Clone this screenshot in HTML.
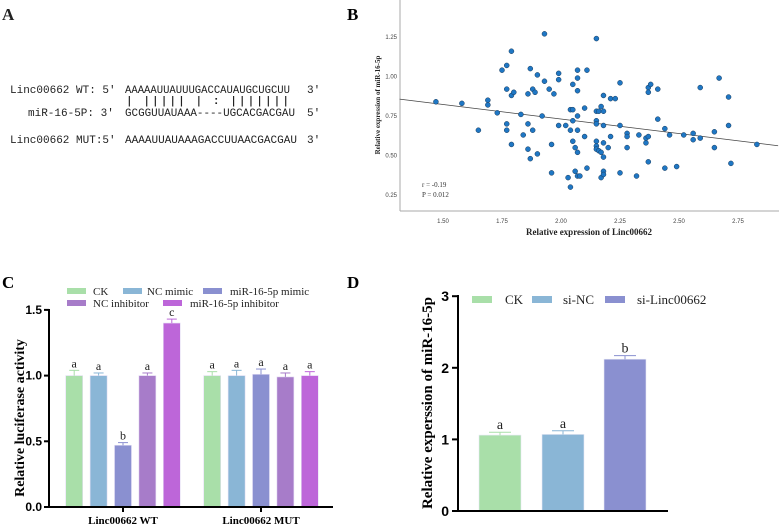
<!DOCTYPE html>
<html><head><meta charset="utf-8"><style>
body{margin:0;background:#fff}
svg{display:block}
.ser{font-family:"Liberation Serif",serif}
.mono{font-family:"Liberation Mono","Noto Sans CJK SC",monospace}
</style></head><body>
<svg id="fig" width="779" height="528" viewBox="0 0 779 528" xmlns="http://www.w3.org/2000/svg">
<g class="mono" font-size="11" fill="#222">
<text x="2" y="20" class="ser" font-size="17" font-weight="bold">A</text>
<text x="10" y="93">Linc00662 WT: 5'</text>
<text x="125" y="93" textLength="165" lengthAdjust="spacingAndGlyphs">AAAAAUUAUUUGACCAUAUGCUGCUU</text>
<text x="307" y="93">3'</text>
<text x="125" y="104" textLength="165" lengthAdjust="spacingAndGlyphs">     | |||||     |  :  |||||||</text>
<text x="28" y="116">miR-16-5P: 3'</text>
<text x="125" y="116" textLength="170" lengthAdjust="spacingAndGlyphs">GCGGUUAUAAA----UGCACGACGAU</text>
<text x="307" y="116">5'</text>
<text x="10" y="143">Linc00662 MUT:5'</text>
<text x="125" y="143" textLength="172" lengthAdjust="spacingAndGlyphs">AAAAUUAUAAAGACCUUAACGACGAU</text>
<text x="307" y="143">3'</text>
</g>
<text x="347" y="20" class="ser" font-size="17" font-weight="bold">B</text>
<text x="2" y="288" class="ser" font-size="17" font-weight="bold">C</text>
<text x="347" y="288" class="ser" font-size="17" font-weight="bold">D</text>
<g id="pb"></g>
<g id="pc"></g>
<g id="pd"></g>
</svg>
<script>
const NS="http://www.w3.org/2000/svg";
function mk(p,t,a,txt){const e=document.createElementNS(NS,t);for(const k in a)e.setAttribute(k,a[k]);if(txt!==undefined)e.textContent=txt;p.appendChild(e);return e;}

// ---------- Panel B data ----------
const scatterX=[1.47,1.58,1.65,1.69,1.69,1.73,1.75,1.77,1.77,1.77,1.77,1.79,1.79,1.79,1.80,1.83,1.84,1.86,1.86,1.86,1.87,1.88,1.88,1.89,1.87,1.90,1.90,1.92,1.93,1.93,1.95,1.96,1.96,1.97,1.99,1.99,1.99,2.02,2.03,2.04,2.04,2.04,2.05,2.05,2.05,2.05,2.06,2.06,2.07,2.07,2.07,2.07,2.07,2.07,2.07,2.08,2.10,2.10,2.11,2.11,2.15,2.15,2.15,2.15,2.15,2.15,2.15,2.16,2.16,2.17,2.17,2.17,2.18,2.18,2.18,2.18,2.18,2.18,2.18,2.20,2.21,2.21,2.23,2.25,2.25,2.25,2.28,2.28,2.28,2.32,2.33,2.36,2.36,2.37,2.37,2.37,2.37,2.38,2.41,2.41,2.44,2.44,2.46,2.49,2.52,2.56,2.56,2.59,2.59,2.65,2.65,2.67,2.71,2.71,2.72,2.83];
const scatterY=[0.84,0.83,0.66,0.85,0.82,0.77,1.04,1.07,0.92,0.70,0.66,1.16,0.88,0.57,0.90,0.76,0.63,0.89,0.70,0.54,1.05,0.92,0.66,0.90,0.48,1.01,0.51,0.75,1.27,0.97,0.92,0.57,0.39,0.89,1.02,0.98,0.69,0.69,0.36,0.66,0.79,0.30,0.95,0.79,0.72,0.59,0.55,0.40,1.04,0.99,0.91,0.75,0.66,0.52,0.37,0.37,0.80,0.62,1.04,0.42,1.24,0.78,0.72,0.70,0.59,0.56,0.54,0.78,0.53,0.81,0.52,0.36,0.88,0.78,0.69,0.58,0.49,0.40,0.38,0.55,0.86,0.62,0.86,0.96,0.69,0.39,0.64,0.62,0.55,0.37,0.63,0.61,0.58,0.93,0.90,0.62,0.46,0.95,0.92,0.73,0.67,0.42,0.63,0.43,0.63,0.64,0.60,0.93,0.61,0.65,0.55,0.99,0.87,0.69,0.45,0.57];
const xTicksB=[1.50,1.75,2.00,2.25,2.50,2.75];
const yTicksB=[0.25,0.50,0.75,1.00,1.25];
const fitSlope=-0.184, fitIntercept=1.099;
const fitRange=[1.316,2.92];

(function(){
 const g=document.getElementById('pb');
 const X0=400,X1=779,Y0=0,Y1=211;
 const xs=v=>443+(v-1.5)/0.25*59;
 const ys=v=>195-(v-0.25)/0.25*39.5;
 mk(g,'line',{x1:X0,y1:Y0,x2:X0,y2:Y1,stroke:'#aaa','stroke-width':1});
 mk(g,'line',{x1:X0,y1:Y1,x2:X1,y2:Y1,stroke:'#aaa','stroke-width':1});
 xTicksB.forEach(t=>{const e=mk(g,'text',{x:xs(t),y:223,'font-size':6,'text-anchor':'middle',fill:'#444','font-family':'Liberation Sans,sans-serif'},t.toFixed(2));
  });
 yTicksB.forEach(t=>{const e=mk(g,'text',{x:397,y:ys(t)+2,'font-size':6,'text-anchor':'end',fill:'#444','font-family':'Liberation Sans,sans-serif'},t.toFixed(2));
  });
 const xt=mk(g,'text',{x:589,y:235,'font-size':9,'font-weight':'bold','text-anchor':'middle',class:'ser',fill:'#222'},'Relative expression of Linc00662');
 
 const yt=mk(g,'text',{x:0,y:0,'font-size':7,'font-weight':'bold','text-anchor':'middle',class:'ser',fill:'#222',transform:'translate(380,105) rotate(-90)'},'Relative expression of miR-16-5p');
 
 const ln=mk(g,'line',{x1:xs(fitRange[0]),y1:ys(fitIntercept+fitSlope*fitRange[0]),x2:xs(fitRange[1]),y2:ys(fitIntercept+fitSlope*fitRange[1]),stroke:'#444','stroke-width':0.8});
 
 scatterX.forEach((v,i)=>{const c=mk(g,'circle',{cx:xs(v),cy:ys(scatterY[i]),r:2.5,fill:'#1f77c4',stroke:'#1a3a5a','stroke-width':0.5});
  });
 const r=mk(g,'text',{x:422,y:187,'font-size':7,class:'ser',fill:'#333'},'r = -0.19');
 
 const p=mk(g,'text',{x:422,y:197,'font-size':7,class:'ser',fill:'#333'},'P = 0.012');
 
})();

// ---------- Panel C data ----------
const groupsC=['Linc00662 WT','Linc00662 MUT'];
const seriesC=['CK','NC mimic','miR-16-5p mimic','NC inhibitor','miR-16-5p inhibitor'];
const valuesWT=[1.00,1.00,0.47,1.00,1.40];
const errorsWT=[0.04,0.02,0.02,0.02,0.03];
const lettersWT=['a','a','b','a','c'];
const valuesMUT=[1.00,1.00,1.01,0.99,1.00];
const errorsMUT=[0.03,0.04,0.04,0.03,0.03];
const lettersMUT=['a','a','a','a','a'];
const yTicksC=[0.0,0.5,1.0,1.5];
const colorsC=['#a9dfa9','#8ab6d6','#8a90d0','#a77cc9','#bd66d9'];

(function(){
 const g=document.getElementById('pc');
 const ys=v=>507-v/0.5*65.7;
 const gx=[123,261], bw=17, step=24.4;
 const sets=[[valuesWT,errorsWT,lettersWT],[valuesMUT,errorsMUT,lettersMUT]];
 sets.forEach((s,gi)=>{
  s[0].forEach((v,i)=>{
   const x=gx[gi]+(i-2)*step-bw/2;
   const b=mk(g,'rect',{x:x,y:ys(v),width:bw,height:ys(0)-ys(v),fill:colorsC[i],stroke:'#e6e0f5','stroke-width':0.6});
   
   const ex=x+bw/2, et=ys(v+s[1][i]);
   mk(g,'line',{x1:ex,y1:ys(v),x2:ex,y2:et,stroke:colorsC[i],'stroke-width':1});
   const eb=mk(g,'line',{x1:ex-5,y1:et,x2:ex+5,y2:et,stroke:colorsC[i],'stroke-width':1});
   
   const lt=mk(g,'text',{x:ex,y:et-3,'font-size':12,'text-anchor':'middle',class:'ser',fill:'#222'},s[2][i]);
   
  });
 });
 mk(g,'line',{x1:49,y1:309,x2:49,y2:508,stroke:'#000','stroke-width':2});
 mk(g,'line',{x1:48,y1:507,x2:333,y2:507,stroke:'#000','stroke-width':2});
 yTicksC.forEach(t=>{mk(g,'line',{x1:44,y1:ys(t),x2:49,y2:ys(t),stroke:'#000','stroke-width':2});
  const e=mk(g,'text',{x:42,y:ys(t)+4,'font-size':12,'font-weight':'bold','text-anchor':'end','font-family':'Liberation Sans,sans-serif'},t.toFixed(1));
  });
 groupsC.forEach((n,i)=>{mk(g,'line',{x1:gx[i],y1:507,x2:gx[i],y2:512,stroke:'#000','stroke-width':2});
  const e=mk(g,'text',{x:gx[i],y:524,'font-size':11,'font-weight':'bold','text-anchor':'middle',class:'ser'},n);
  });
 const yt=mk(g,'text',{x:0,y:0,'font-size':14,'font-weight':'bold','text-anchor':'middle',class:'ser',transform:'translate(24,418) rotate(-90)'},'Relative luciferase activity');
 
 const leg=[[67,292,93],[123,292,147],[203,292,230],[67,304,93],[163,304,190]];
 seriesC.forEach((n,i)=>{const L=leg[i];
  const sw=mk(g,'rect',{x:L[0],y:L[1]-4,width:19,height:6,fill:colorsC[i]});
  
  const e=mk(g,'text',{x:L[2],y:L[1]+3,'font-size':11,class:'ser',fill:'#222'},n);
  });
})();

// ---------- Panel D data ----------
const categoriesD=['CK','si-NC','si-Linc00662'];
const valuesD=[1.06,1.07,2.12];
const errorsD=[0.04,0.05,0.05];
const lettersD=['a','a','b'];
const yTicksD=[0,1,2,3];
const colorsD=['#a9dfa9','#8ab6d6','#8a90d0'];

(function(){
 const g=document.getElementById('pd');
 const ys=v=>511-v*71.6;
 const cx=[500,563,625], bw=42;
 valuesD.forEach((v,i)=>{
  const x=cx[i]-bw/2;
  const b=mk(g,'rect',{x:x,y:ys(v),width:bw,height:ys(0)-ys(v),fill:colorsD[i],stroke:'#e6e8f5','stroke-width':0.6});
  
  const et=ys(v+errorsD[i]);
  mk(g,'line',{x1:cx[i],y1:ys(v),x2:cx[i],y2:et,stroke:colorsD[i],'stroke-width':1});
  const eb=mk(g,'line',{x1:cx[i]-11,y1:et,x2:cx[i]+11,y2:et,stroke:colorsD[i],'stroke-width':1});
  
  const lt=mk(g,'text',{x:cx[i],y:et-3,'font-size':14,'text-anchor':'middle',class:'ser',fill:'#222'},lettersD[i]);
  
 });
 mk(g,'line',{x1:458,y1:295,x2:458,y2:512,stroke:'#000','stroke-width':2});
 mk(g,'line',{x1:457,y1:511,x2:668,y2:511,stroke:'#000','stroke-width':2});
 yTicksD.forEach(t=>{mk(g,'line',{x1:452,y1:ys(t),x2:458,y2:ys(t),stroke:'#000','stroke-width':2});
  const e=mk(g,'text',{x:449,y:ys(t)+5,'font-size':14,'font-weight':'bold','text-anchor':'end','font-family':'Liberation Sans,sans-serif'},t);
  });
 const yt=mk(g,'text',{x:0,y:0,'font-size':15,'font-weight':'bold','text-anchor':'middle',class:'ser',transform:'translate(432,403) rotate(-90)'},'Relative experssion of miR-16-5p');
 
 const leg=[[472,505],[532,563],[605,637]];
 categoriesD.forEach((n,i)=>{
  const sw=mk(g,'rect',{x:leg[i][0],y:296,width:20,height:7,fill:colorsD[i]});
  
  const e=mk(g,'text',{x:leg[i][1],y:304,'font-size':13,class:'ser',fill:'#222'},n);
  });
})();
</script>
</body></html>
